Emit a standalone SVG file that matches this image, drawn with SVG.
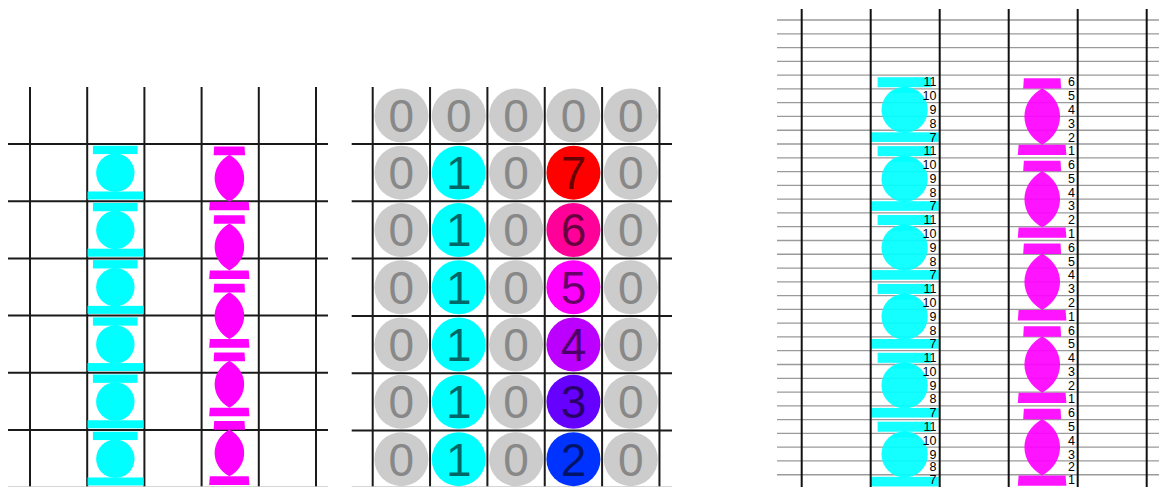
<svg xmlns="http://www.w3.org/2000/svg" xmlns:xlink="http://www.w3.org/1999/xlink" width="1159" height="487" viewBox="0 0 1159 487">
<style>
.grid{stroke:#1a1a1a;stroke-width:2;fill:none}
.edge{stroke:#c8c8c8;stroke-width:1.5}
.hl{stroke:#9a9a9a;stroke-width:1.3}
.vl{stroke:#111;stroke-width:2}
.c{fill:#00ffff}
.m{fill:#ff00ff}
.g{fill:#cccccc}
.d{font-family:"Liberation Sans",Arial,sans-serif;font-size:46px;text-anchor:middle}
.z{fill:#888888}
.n{fill:#000000;fill-opacity:0.6}
.lbl{font-family:"Liberation Sans",Arial,sans-serif;font-size:12.5px;fill:#000;text-anchor:end}
.soft{fill-opacity:0.92}
</style>
<defs>
<g id="cyan-piece" class="c">
<rect x="0.5" y="0.15" width="3.9" height="0.73"/>
<polygon points="1.35,1.3 2.46,0.8 3.57,1.3"/>
<circle cx="2.46" cy="2.52" r="1.68"/>
<rect x="0.03" y="4.15" width="4.9" height="0.7"/>
</g>
<g id="magenta-piece" class="m">
<polygon points="1.1,0.22 3.75,0.22 3.8,0.98 1.05,0.98"/>
<path d="M2.43,0.95 C4.15,1.9 4.15,4.1 2.43,5.05 C0.71,4.1 0.71,1.9 2.43,0.95Z"/>
<polygon points="0.72,5.05 4.12,5.05 4.18,5.8 0.66,5.8"/>
</g>
</defs>

<!-- LEFT PANEL -->
<g id="left-panel">
<g id="left-grid" class="grid">
<line x1="30" y1="87" x2="30" y2="487"/>
<line x1="87.2" y1="87" x2="87.2" y2="487"/>
<line x1="144.4" y1="87" x2="144.4" y2="487"/>
<line x1="201.6" y1="87" x2="201.6" y2="487"/>
<line x1="258.8" y1="87" x2="258.8" y2="487"/>
<line x1="316" y1="87" x2="316" y2="487"/>
<line x1="8" y1="144" x2="328" y2="144"/>
<line x1="8" y1="201.2" x2="328" y2="201.2"/>
<line x1="8" y1="258.4" x2="328" y2="258.4"/>
<line x1="8" y1="315.6" x2="328" y2="315.6"/>
<line x1="8" y1="372.8" x2="328" y2="372.8"/>
<line x1="8" y1="430" x2="328" y2="430"/>
</g>
<line class="edge" x1="8" y1="487" x2="328" y2="487"/>
<g id="left-cyan">
<use xlink:href="#cyan-piece" href="#cyan-piece" transform="translate(87.2,144) scale(11.44)"/>
<use xlink:href="#cyan-piece" href="#cyan-piece" transform="translate(87.2,201.2) scale(11.44)"/>
<use xlink:href="#cyan-piece" href="#cyan-piece" transform="translate(87.2,258.4) scale(11.44)"/>
<use xlink:href="#cyan-piece" href="#cyan-piece" transform="translate(87.2,315.6) scale(11.44)"/>
<use xlink:href="#cyan-piece" href="#cyan-piece" transform="translate(87.2,372.8) scale(11.44)"/>
<use xlink:href="#cyan-piece" href="#cyan-piece" transform="translate(87.2,430) scale(11.44)"/>
</g>
<g id="left-magenta">
<use xlink:href="#magenta-piece" href="#magenta-piece" transform="translate(201.6,144) scale(11.44)"/>
<use xlink:href="#magenta-piece" href="#magenta-piece" transform="translate(201.6,212.64) scale(11.44)"/>
<use xlink:href="#magenta-piece" href="#magenta-piece" transform="translate(201.6,281.28) scale(11.44)"/>
<use xlink:href="#magenta-piece" href="#magenta-piece" transform="translate(201.6,349.92) scale(11.44)"/>
<use xlink:href="#magenta-piece" href="#magenta-piece" transform="translate(201.6,418.56) scale(11.44)"/>
</g>
</g>

<!-- MIDDLE PANEL -->
<g id="middle-panel">
<g id="middle-grid" class="grid">
<line x1="372.7" y1="87" x2="372.7" y2="487"/>
<line x1="430.05" y1="87" x2="430.05" y2="487"/>
<line x1="487.4" y1="87" x2="487.4" y2="487"/>
<line x1="544.75" y1="87" x2="544.75" y2="487"/>
<line x1="602.1" y1="87" x2="602.1" y2="487"/>
<line x1="659.45" y1="87" x2="659.45" y2="487"/>
<line x1="351.7" y1="144" x2="672" y2="144"/>
<line x1="351.7" y1="201.3" x2="672" y2="201.3"/>
<line x1="351.7" y1="258.6" x2="672" y2="258.6"/>
<line x1="351.7" y1="315.9" x2="672" y2="315.9"/>
<line x1="351.7" y1="373.2" x2="672" y2="373.2"/>
<line x1="351.7" y1="430.5" x2="672" y2="430.5"/>
</g>
<line class="edge" x1="351.7" y1="487" x2="672" y2="487"/>

<g id="r0c0"><circle class="g" cx="401.4" cy="115.5" r="27"/><text class="d z" x="401.4" y="132">0</text></g>
<g id="r0c1"><circle class="g" cx="458.75" cy="115.5" r="27"/><text class="d z" x="458.75" y="132">0</text></g>
<g id="r0c2"><circle class="g" cx="516.1" cy="115.5" r="27"/><text class="d z" x="516.1" y="132">0</text></g>
<g id="r0c3"><circle class="g" cx="573.45" cy="115.5" r="27"/><text class="d z" x="573.45" y="132">0</text></g>
<g id="r0c4"><circle class="g" cx="630.8" cy="115.5" r="27"/><text class="d z" x="630.8" y="132">0</text></g>

<g id="r1c0"><circle class="g" cx="401.4" cy="172.65" r="27"/><text class="d z" x="401.4" y="189.15">0</text></g>
<g id="r1c1"><circle class="c" cx="458.75" cy="172.65" r="27"/><text class="d n" x="458.75" y="189.15">1</text></g>
<g id="r1c2"><circle class="g" cx="516.1" cy="172.65" r="27"/><text class="d z" x="516.1" y="189.15">0</text></g>
<g id="r1c3"><circle fill="#ff0000" cx="573.45" cy="172.65" r="27"/><text class="d n" x="573.45" y="189.15">7</text></g>
<g id="r1c4"><circle class="g" cx="630.8" cy="172.65" r="27"/><text class="d z" x="630.8" y="189.15">0</text></g>

<g id="r2c0"><circle class="g" cx="401.4" cy="229.95" r="27"/><text class="d z" x="401.4" y="246.45">0</text></g>
<g id="r2c1"><circle class="c" cx="458.75" cy="229.95" r="27"/><text class="d n" x="458.75" y="246.45">1</text></g>
<g id="r2c2"><circle class="g" cx="516.1" cy="229.95" r="27"/><text class="d z" x="516.1" y="246.45">0</text></g>
<g id="r2c3"><circle fill="#ff0099" cx="573.45" cy="229.95" r="27"/><text class="d n" x="573.45" y="246.45">6</text></g>
<g id="r2c4"><circle class="g" cx="630.8" cy="229.95" r="27"/><text class="d z" x="630.8" y="246.45">0</text></g>

<g id="r3c0"><circle class="g" cx="401.4" cy="287.25" r="27"/><text class="d z" x="401.4" y="303.75">0</text></g>
<g id="r3c1"><circle class="c" cx="458.75" cy="287.25" r="27"/><text class="d n" x="458.75" y="303.75">1</text></g>
<g id="r3c2"><circle class="g" cx="516.1" cy="287.25" r="27"/><text class="d z" x="516.1" y="303.75">0</text></g>
<g id="r3c3"><circle fill="#ff00ff" cx="573.45" cy="287.25" r="27"/><text class="d n" x="573.45" y="303.75">5</text></g>
<g id="r3c4"><circle class="g" cx="630.8" cy="287.25" r="27"/><text class="d z" x="630.8" y="303.75">0</text></g>

<g id="r4c0"><circle class="g" cx="401.4" cy="344.55" r="27"/><text class="d z" x="401.4" y="361.05">0</text></g>
<g id="r4c1"><circle class="c" cx="458.75" cy="344.55" r="27"/><text class="d n" x="458.75" y="361.05">1</text></g>
<g id="r4c2"><circle class="g" cx="516.1" cy="344.55" r="27"/><text class="d z" x="516.1" y="361.05">0</text></g>
<g id="r4c3"><circle fill="#bb00ff" cx="573.45" cy="344.55" r="27"/><text class="d n" x="573.45" y="361.05">4</text></g>
<g id="r4c4"><circle class="g" cx="630.8" cy="344.55" r="27"/><text class="d z" x="630.8" y="361.05">0</text></g>

<g id="r5c0"><circle class="g" cx="401.4" cy="401.85" r="27"/><text class="d z" x="401.4" y="418.35">0</text></g>
<g id="r5c1"><circle class="c" cx="458.75" cy="401.85" r="27"/><text class="d n" x="458.75" y="418.35">1</text></g>
<g id="r5c2"><circle class="g" cx="516.1" cy="401.85" r="27"/><text class="d z" x="516.1" y="418.35">0</text></g>
<g id="r5c3"><circle fill="#6600ff" cx="573.45" cy="401.85" r="27"/><text class="d n" x="573.45" y="418.35">3</text></g>
<g id="r5c4"><circle class="g" cx="630.8" cy="401.85" r="27"/><text class="d z" x="630.8" y="418.35">0</text></g>

<g id="r6c0"><circle class="g" cx="401.4" cy="459.15" r="27"/><text class="d z" x="401.4" y="475.65">0</text></g>
<g id="r6c1"><circle class="c" cx="458.75" cy="459.15" r="27"/><text class="d n" x="458.75" y="475.65">1</text></g>
<g id="r6c2"><circle class="g" cx="516.1" cy="459.15" r="27"/><text class="d z" x="516.1" y="475.65">0</text></g>
<g id="r6c3"><circle fill="#0033ff" cx="573.45" cy="459.15" r="27"/><text class="d n" x="573.45" y="475.65">2</text></g>
<g id="r6c4"><circle class="g" cx="630.8" cy="459.15" r="27"/><text class="d z" x="630.8" y="475.65">0</text></g>
</g>

<!-- RIGHT PANEL -->
<g id="right-panel">
<g id="right-hlines" class="hl">
<line x1="777" y1="20" x2="1159" y2="20"/>
<line x1="777" y1="33.78" x2="1159" y2="33.78"/>
<line x1="777" y1="47.56" x2="1159" y2="47.56"/>
<line x1="777" y1="61.34" x2="1159" y2="61.34"/>
<line x1="777" y1="75.12" x2="1159" y2="75.12"/>
<line x1="777" y1="88.9" x2="1159" y2="88.9"/>
<line x1="777" y1="102.68" x2="1159" y2="102.68"/>
<line x1="777" y1="116.46" x2="1159" y2="116.46"/>
<line x1="777" y1="130.24" x2="1159" y2="130.24"/>
<line x1="777" y1="144.02" x2="1159" y2="144.02"/>
<line x1="777" y1="157.8" x2="1159" y2="157.8"/>
<line x1="777" y1="171.58" x2="1159" y2="171.58"/>
<line x1="777" y1="185.36" x2="1159" y2="185.36"/>
<line x1="777" y1="199.14" x2="1159" y2="199.14"/>
<line x1="777" y1="212.92" x2="1159" y2="212.92"/>
<line x1="777" y1="226.7" x2="1159" y2="226.7"/>
<line x1="777" y1="240.48" x2="1159" y2="240.48"/>
<line x1="777" y1="254.26" x2="1159" y2="254.26"/>
<line x1="777" y1="268.04" x2="1159" y2="268.04"/>
<line x1="777" y1="281.82" x2="1159" y2="281.82"/>
<line x1="777" y1="295.6" x2="1159" y2="295.6"/>
<line x1="777" y1="309.38" x2="1159" y2="309.38"/>
<line x1="777" y1="323.16" x2="1159" y2="323.16"/>
<line x1="777" y1="336.94" x2="1159" y2="336.94"/>
<line x1="777" y1="350.72" x2="1159" y2="350.72"/>
<line x1="777" y1="364.5" x2="1159" y2="364.5"/>
<line x1="777" y1="378.28" x2="1159" y2="378.28"/>
<line x1="777" y1="392.06" x2="1159" y2="392.06"/>
<line x1="777" y1="405.84" x2="1159" y2="405.84"/>
<line x1="777" y1="419.62" x2="1159" y2="419.62"/>
<line x1="777" y1="433.4" x2="1159" y2="433.4"/>
<line x1="777" y1="447.18" x2="1159" y2="447.18"/>
<line x1="777" y1="460.96" x2="1159" y2="460.96"/>
<line x1="777" y1="474.74" x2="1159" y2="474.74"/>
</g>
<g id="right-cyan" class="soft">
<use xlink:href="#cyan-piece" href="#cyan-piece" transform="translate(870.7,75.12) scale(13.8,13.78)"/>
<use xlink:href="#cyan-piece" href="#cyan-piece" transform="translate(870.7,144.02) scale(13.8,13.78)"/>
<use xlink:href="#cyan-piece" href="#cyan-piece" transform="translate(870.7,212.92) scale(13.8,13.78)"/>
<use xlink:href="#cyan-piece" href="#cyan-piece" transform="translate(870.7,281.82) scale(13.8,13.78)"/>
<use xlink:href="#cyan-piece" href="#cyan-piece" transform="translate(870.7,350.72) scale(13.8,13.78)"/>
<use xlink:href="#cyan-piece" href="#cyan-piece" transform="translate(870.7,419.62) scale(13.8,13.78)"/>
</g>
<g id="right-magenta" class="soft">
<use xlink:href="#magenta-piece" href="#magenta-piece" transform="translate(1008.7,75.12) scale(13.8,13.78)"/>
<use xlink:href="#magenta-piece" href="#magenta-piece" transform="translate(1008.7,157.8) scale(13.8,13.78)"/>
<use xlink:href="#magenta-piece" href="#magenta-piece" transform="translate(1008.7,240.48) scale(13.8,13.78)"/>
<use xlink:href="#magenta-piece" href="#magenta-piece" transform="translate(1008.7,323.16) scale(13.8,13.78)"/>
<use xlink:href="#magenta-piece" href="#magenta-piece" transform="translate(1008.7,405.84) scale(13.8,13.78)"/>
</g>
<g id="right-vlines" class="vl">
<line x1="801.7" y1="9" x2="801.7" y2="487"/>
<line x1="870.7" y1="9" x2="870.7" y2="487"/>
<line x1="939.7" y1="9" x2="939.7" y2="487"/>
<line x1="1008.7" y1="9" x2="1008.7" y2="487"/>
<line x1="1077.7" y1="9" x2="1077.7" y2="487"/>
<line x1="1146.7" y1="9" x2="1146.7" y2="487"/>
</g>
<text id="cyan-labels" class="lbl"><tspan x="936.5" y="86.4">11</tspan><tspan x="936.5" y="100.2">10</tspan><tspan x="936.5" y="114">9</tspan><tspan x="936.5" y="127.8">8</tspan><tspan x="936.5" y="141.5">7</tspan><tspan x="936.5" y="155.3">11</tspan><tspan x="936.5" y="169.1">10</tspan><tspan x="936.5" y="182.9">9</tspan><tspan x="936.5" y="196.7">8</tspan><tspan x="936.5" y="210.4">7</tspan><tspan x="936.5" y="224.2">11</tspan><tspan x="936.5" y="238">10</tspan><tspan x="936.5" y="251.8">9</tspan><tspan x="936.5" y="265.6">8</tspan><tspan x="936.5" y="279.3">7</tspan><tspan x="936.5" y="293.1">11</tspan><tspan x="936.5" y="306.9">10</tspan><tspan x="936.5" y="320.7">9</tspan><tspan x="936.5" y="334.5">8</tspan><tspan x="936.5" y="348.2">7</tspan><tspan x="936.5" y="362">11</tspan><tspan x="936.5" y="375.8">10</tspan><tspan x="936.5" y="389.6">9</tspan><tspan x="936.5" y="403.4">8</tspan><tspan x="936.5" y="417.1">7</tspan><tspan x="936.5" y="430.9">11</tspan><tspan x="936.5" y="444.7">10</tspan><tspan x="936.5" y="458.5">9</tspan><tspan x="936.5" y="471.3">8</tspan><tspan x="936.5" y="484.3">7</tspan></text>
<text id="magenta-labels" class="lbl"><tspan x="1075" y="86.4">6</tspan><tspan x="1075" y="100.2">5</tspan><tspan x="1075" y="114">4</tspan><tspan x="1075" y="127.8">3</tspan><tspan x="1075" y="141.5">2</tspan><tspan x="1075" y="155.3">1</tspan><tspan x="1075" y="169.1">6</tspan><tspan x="1075" y="182.9">5</tspan><tspan x="1075" y="196.7">4</tspan><tspan x="1075" y="210.4">3</tspan><tspan x="1075" y="224.2">2</tspan><tspan x="1075" y="238">1</tspan><tspan x="1075" y="251.8">6</tspan><tspan x="1075" y="265.6">5</tspan><tspan x="1075" y="279.3">4</tspan><tspan x="1075" y="293.1">3</tspan><tspan x="1075" y="306.9">2</tspan><tspan x="1075" y="320.7">1</tspan><tspan x="1075" y="334.5">6</tspan><tspan x="1075" y="348.2">5</tspan><tspan x="1075" y="362">4</tspan><tspan x="1075" y="375.8">3</tspan><tspan x="1075" y="389.6">2</tspan><tspan x="1075" y="403.4">1</tspan><tspan x="1075" y="417.1">6</tspan><tspan x="1075" y="430.9">5</tspan><tspan x="1075" y="444.7">4</tspan><tspan x="1075" y="458.5">3</tspan><tspan x="1075" y="471.3">2</tspan><tspan x="1075" y="484.3">1</tspan></text>
</g>
</svg>
